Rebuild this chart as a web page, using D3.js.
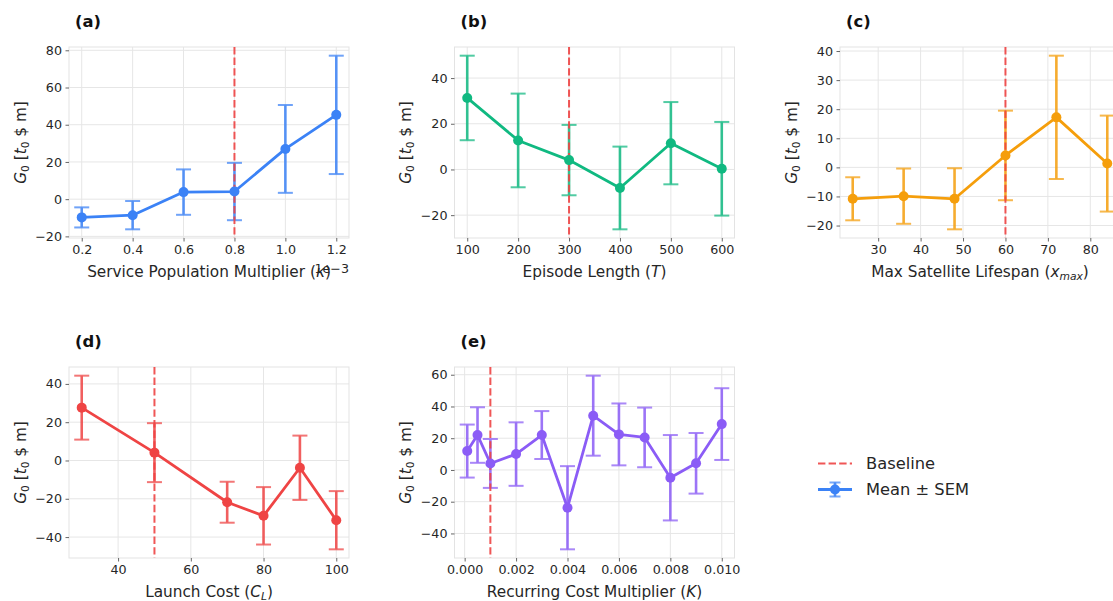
<!DOCTYPE html>
<html>
<head>
<meta charset="utf-8">
<script src="https://cdn.jsdelivr.net/npm/d3@7"></script>
<style>
  html, body { margin: 0; padding: 0; background: #ffffff; }
  svg { display: block; font-family: "DejaVu Sans", sans-serif; }
</style>
</head>
<body>
<svg id="chart" width="1113" height="601"></svg>
<script>
// ---------------- DATA ----------------
const xA = [0.0002, 0.0004, 0.0006, 0.0008, 0.0010, 0.0012];
const meanA = [-9.8, -8.6, 3.8, 4.1, 27.0, 45.3];
const semA = [5.4, 7.6, 12.2, 15.4, 23.6, 31.8];
const ticksXA = [0.0002, 0.0004, 0.0006, 0.0008, 0.0010, 0.0012];
const ticksYA = [-20, 0, 20, 40, 60, 80];

const xB = [100, 200, 300, 400, 500, 600];
const meanB = [31.3, 12.7, 4.1, -8.1, 11.5, 0.3];
const semB = [18.5, 20.5, 15.4, 18.1, 18.0, 20.5];
const ticksXB = [100, 200, 300, 400, 500, 600];
const ticksYB = [-20, 0, 20, 40];

const xC = [24, 36, 48, 60, 72, 84];
const meanC = [-10.8, -9.9, -10.8, 4.1, 17.2, 1.3];
const semC = [7.4, 9.5, 10.5, 15.4, 21.2, 16.5];
const ticksXC = [30, 40, 50, 60, 70, 80];
const ticksYC = [-20, -10, 0, 10, 20, 30, 40];

const xD = [30, 50, 70, 80, 90, 100];
const meanD = [27.6, 4.1, -21.8, -28.9, -3.8, -31.2];
const semD = [16.7, 15.4, 10.7, 15.0, 16.8, 15.2];
const ticksXD = [40, 60, 80, 100];
const ticksYD = [-40, -20, 0, 20, 40];

const xE = [0.0001, 0.0005, 0.001, 0.002, 0.003, 0.004, 0.005, 0.006, 0.007, 0.008, 0.009, 0.010];
const meanE = [11.9, 22.0, 4.1, 10.0, 22.0, -23.8, 34.2, 22.4, 20.5, -4.9, 4.2, 28.9];
const semE = [16.7, 17.5, 15.4, 20.0, 15.1, 26.2, 25.2, 19.5, 18.8, 26.9, 19.1, 22.6];
const ticksXE = [0, 0.002, 0.004, 0.006, 0.008, 0.010];
const ticksYE = [-40, -20, 0, 20, 40, 60];

const panelLabels = ["(a)", "(b)", "(c)", "(d)", "(e)"];
const baselines = [0.0008, 300, 60, 50, 0.001];
const colors = ["#3b82f6", "#10b981", "#f59e0b", "#ef4444", "#8b5cf6"];
const baselineColor = "#ef4444";
const legendLabels = ["Baseline", "Mean \u00b1 SEM"];

// ---------------- LAYOUT ----------------
const svg = d3.select("#chart");
const PW = 280, PH = 191;
const colX = [69, 454.5, 840];
const rowY = [47, 367];

const panels = [
  { x: xA, m: meanA, s: semA, tx: ticksXA, ty: ticksYA, fmt: v => (v * 1e3).toFixed(1), offset: "1e\u22123",
    xlabel: [["Service Population Multiplier (", null], ["\u03ba", "i"], [")", null]], col: 0, row: 0 },
  { x: xB, m: meanB, s: semB, tx: ticksXB, ty: ticksYB, fmt: d3.format("d"),
    xlabel: [["Episode Length (", null], ["T", "i"], [")", null]], col: 1, row: 0 },
  { x: xC, m: meanC, s: semC, tx: ticksXC, ty: ticksYC, fmt: d3.format("d"),
    xlabel: [["Max Satellite Lifespan (", null], ["x", "i"], ["max", "sub"], [")", null]], col: 2, row: 0 },
  { x: xD, m: meanD, s: semD, tx: ticksXD, ty: ticksYD, fmt: d3.format("d"),
    xlabel: [["Launch Cost (", null], ["C", "i"], ["L", "sub"], [")", null]], col: 0, row: 1 },
  { x: xE, m: meanE, s: semE, tx: ticksXE, ty: ticksYE, fmt: d3.format(".3f"),
    xlabel: [["Recurring Cost Multiplier (", null], ["K", "i"], [")", null]], col: 1, row: 1 }
];

const tickFont = 12.7, labelFont = 15.3, titleFont = 16.4, legendFont = 16.3;

function addRich(textSel, parts) {
  parts.forEach(([t, style]) => {
    const ts = textSel.append("tspan").text(t);
    if (style === "i") ts.attr("font-style", "italic");
    if (style === "sub") ts.attr("font-style", "italic").attr("font-size", "0.7em").attr("baseline-shift", "-0.25em");
    if (style === "sub0") ts.attr("font-size", "0.7em").attr("baseline-shift", "-0.25em");
  });
}

panels.forEach((p, i) => {
  const left = colX[p.col], top = rowY[p.row];
  const g = svg.append("g").attr("transform", `translate(${left},${top})`);

  const xmin = d3.min(p.x), xmax = d3.max(p.x), xr = xmax - xmin;
  const lows = p.m.map((v, k) => v - p.s[k]);
  const highs = p.m.map((v, k) => v + p.s[k]);
  const ymin = d3.min(lows), ymax = d3.max(highs), yr = ymax - ymin;
  const x = d3.scaleLinear().domain([xmin - 0.05 * xr, xmax + 0.05 * xr]).range([0, PW]);
  const y = d3.scaleLinear().domain([ymin - 0.05 * yr, ymax + 0.05 * yr]).range([PH, 0]);

  // grid
  g.append("g").selectAll("line").data(p.tx).join("line")
    .attr("x1", d => x(d)).attr("x2", d => x(d)).attr("y1", 0).attr("y2", PH)
    .attr("stroke", "#e6e6e6").attr("stroke-width", 1);
  g.append("g").selectAll("line").data(p.ty).join("line")
    .attr("x1", 0).attr("x2", PW).attr("y1", d => y(d)).attr("y2", d => y(d))
    .attr("stroke", "#e6e6e6").attr("stroke-width", 1);
  // frame
  g.append("rect").attr("x", 0).attr("y", 0).attr("width", PW).attr("height", PH)
    .attr("fill", "none").attr("stroke", "#e3e3e3").attr("stroke-width", 1);

  // axes
  const xAxis = d3.axisBottom(x).tickValues(p.tx).tickFormat(p.fmt).tickSize(3.5).tickPadding(3.5);
  const yAxis = d3.axisLeft(y).tickValues(p.ty).tickFormat(d3.format("d")).tickSize(3.5).tickPadding(3.5);
  const gx = g.append("g").attr("transform", `translate(0,${PH})`).call(xAxis);
  const gy = g.append("g").call(yAxis);
  [gx, gy].forEach(a => {
    a.select(".domain").remove();
    a.selectAll(".tick line").attr("stroke", "#555").attr("stroke-width", 0.9);
    a.selectAll(".tick text").attr("fill", "#262626").attr("font-size", tickFont)
      .attr("font-family", "DejaVu Sans");
  });

  // offset text
  if (p.offset) {
    g.append("text").attr("x", PW).attr("y", PH + 35).attr("text-anchor", "end")
      .attr("font-size", tickFont).attr("fill", "#262626").text(p.offset);
  }

  // x label
  const xl = g.append("text").attr("x", PW / 2).attr("y", PH + 38.5).attr("text-anchor", "middle")
    .attr("font-size", labelFont).attr("fill", "#262626");
  addRich(xl, p.xlabel);

  // y label
  const yl = g.append("text").attr("transform", `translate(${-49},${PH / 2}) rotate(-90)`)
    .attr("text-anchor", "middle").attr("dy", "0.36em")
    .attr("font-size", labelFont).attr("fill", "#262626");
  addRich(yl, [["G", "i"], ["0", "sub0"], [" [", null], ["t", "i"], ["0", "sub0"], [" $ m]", null]]);

  // title
  g.append("text").attr("x", 6).attr("y", -20).attr("font-size", titleFont).attr("font-weight", "bold")
    .attr("fill", "#111").text(panelLabels[i]);

  const c = colors[i];
  const pts = p.x.map((v, k) => ({ x: v, m: p.m[k], lo: lows[k], hi: highs[k] }));

  // baseline (drawn under error bars)
  const bl = g.append("line").attr("x1", x(baselines[i])).attr("x2", x(baselines[i]))
    .attr("y1", 0).attr("y2", PH).attr("stroke", baselineColor).attr("stroke-width", 2)
    .attr("stroke-dasharray", "7.4,3.2").attr("opacity", 0.9);

  // error bars
  const eb = g.append("g").attr("opacity", 0.85);
  eb.selectAll("line.v").data(pts).join("line").attr("class", "v")
    .attr("x1", d => x(d.x)).attr("x2", d => x(d.x)).attr("y1", d => y(d.lo)).attr("y2", d => y(d.hi))
    .attr("stroke", c).attr("stroke-width", 2.6);
  eb.selectAll("line.ct").data(pts).join("line").attr("class", "ct")
    .attr("x1", d => x(d.x) - 7.5).attr("x2", d => x(d.x) + 7.5).attr("y1", d => y(d.hi)).attr("y2", d => y(d.hi))
    .attr("stroke", c).attr("stroke-width", 2).attr("opacity", 0.85);
  eb.selectAll("line.cb").data(pts).join("line").attr("class", "cb")
    .attr("x1", d => x(d.x) - 7.5).attr("x2", d => x(d.x) + 7.5).attr("y1", d => y(d.lo)).attr("y2", d => y(d.lo))
    .attr("stroke", c).attr("stroke-width", 2).attr("opacity", 0.85);

  // line
  g.append("path").datum(pts)
    .attr("d", d3.line().x(d => x(d.x)).y(d => y(d.m)))
    .attr("fill", "none").attr("stroke", c).attr("stroke-width", 2.8).attr("stroke-linejoin", "round");
  // markers
  g.selectAll("circle.pt").data(pts).join("circle").attr("class", "pt")
    .attr("cx", d => x(d.x)).attr("cy", d => y(d.m)).attr("r", 5).attr("fill", c);

  // dashed baseline over vertical bars (partially)
  bl.raise();
  g.selectAll("circle.pt").raise();
});

// ---------------- LEGEND ----------------
const lg = svg.append("g");
lg.append("line").attr("x1", 818).attr("x2", 852).attr("y1", 463.5).attr("y2", 463.5)
  .attr("stroke", baselineColor).attr("stroke-width", 2).attr("stroke-dasharray", "7.4,3.2").attr("opacity", 0.9);
lg.append("text").attr("x", 866).attr("y", 463.5).attr("dy", "0.35em").attr("font-size", legendFont)
  .attr("fill", "#262626").text(legendLabels[0]);
const ly = 489.5, lc = 835;
lg.append("line").attr("x1", 818).attr("x2", 852).attr("y1", ly).attr("y2", ly)
  .attr("stroke", colors[0]).attr("stroke-width", 2.8);
lg.append("line").attr("x1", lc).attr("x2", lc).attr("y1", ly - 7).attr("y2", ly + 7)
  .attr("stroke", colors[0]).attr("stroke-width", 2.6).attr("opacity", 0.85);
[ly - 7, ly + 7].forEach(yy => lg.append("line").attr("x1", lc - 5.5).attr("x2", lc + 5.5)
  .attr("y1", yy).attr("y2", yy).attr("stroke", colors[0]).attr("stroke-width", 2).attr("opacity", 0.7));
lg.append("circle").attr("cx", lc).attr("cy", ly).attr("r", 5).attr("fill", colors[0]);
lg.append("text").attr("x", 866).attr("y", ly).attr("dy", "0.35em").attr("font-size", legendFont)
  .attr("fill", "#262626").text(legendLabels[1]);
</script>
</body>
</html>
